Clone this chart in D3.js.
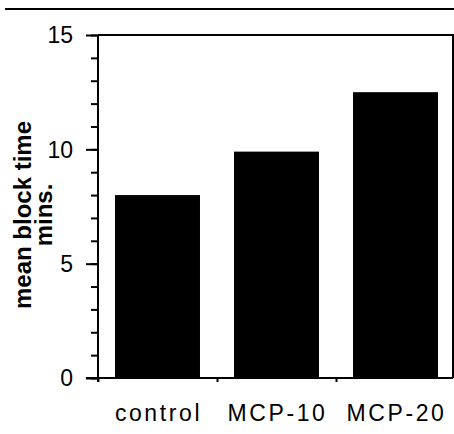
<!DOCTYPE html>
<html>
<head>
<meta charset="utf-8">
<script src="https://cdn.jsdelivr.net/npm/d3@7"></script>
<style>
  html, body { margin: 0; padding: 0; background: #fff; }
  svg { display: block; }
  text { font-family: "Liberation Sans", Arial, Helvetica, sans-serif; fill: #000; }
</style>
</head>
<body>
<svg id="chart" width="454" height="434"></svg>
<script>
// Mean block time (minutes) per treatment group
const categories = ["control", "MCP-10", "MCP-20"];
const blockTime = [8.0, 9.9, 12.5];
const majorTicks = [0, 5, 10, 15];
const minorTicks = d3.range(0, 16);
const yTitle = ["mean block time", "mins."];

const svg = d3.select("#chart");
const plotLeft = 98, plotRight = 455, plotTop = 35, plotBottom = 378;

const x = d3.scaleBand()
  .domain(categories)
  .range([plotLeft, plotRight])
  .paddingInner(0.286)
  .paddingOuter(0.143);

const y = d3.scaleLinear().domain([0, 15]).range([plotBottom, plotTop]);

// rule across the top of the page
svg.append("line")
  .attr("x1", 5).attr("x2", 454).attr("y1", 9).attr("y2", 9)
  .attr("stroke", "#000").attr("stroke-width", 2);

// bars
svg.append("g").selectAll("rect")
  .data(categories.map((c, i) => ({ c, v: blockTime[i] })))
  .join("rect")
  .attr("x", d => x(d.c))
  .attr("width", x.bandwidth())
  .attr("y", d => y(d.v))
  .attr("height", d => y(0) - y(d.v))
  .attr("fill", "#000");

// frame: top and right edges
svg.append("path")
  .attr("d", `M${plotLeft},${plotTop}H453V${plotBottom}`)
  .attr("fill", "none").attr("stroke", "#000").attr("stroke-width", 2);

// y axis: minor ticks every unit, labelled major ticks every 5
const yAxisMinor = d3.axisLeft(y).tickValues(minorTicks).tickSize(7).tickFormat("");
const gMinor = svg.append("g").attr("transform", `translate(${plotLeft},0)`).call(yAxisMinor);
gMinor.select(".domain").remove();
gMinor.selectAll("line").attr("stroke-width", 2);

const yAxis = d3.axisLeft(y).tickValues(majorTicks).tickSize(12).tickPadding(13)
  .tickFormat(d3.format("d"));
const gY = svg.append("g").attr("transform", `translate(${plotLeft},0)`).call(yAxis);
gY.select(".domain").attr("d", `M0,${plotTop}V${plotBottom + 4}`).attr("stroke-width", 2);
gY.selectAll("line").attr("stroke-width", 2);
gY.selectAll("text")
  .style("font-size", "23px")
  .attr("dy", "0.34em");

// x axis with small ticks at group boundaries
const bounds = [plotLeft, plotLeft + x.step(), plotLeft + 2 * x.step()];
const xb = d3.scaleLinear().domain([plotLeft, plotRight]).range([plotLeft, plotRight]);
const gX = svg.append("g").attr("transform", `translate(0,${plotBottom})`)
  .call(d3.axisBottom(xb).tickValues(bounds).tickSize(4).tickFormat(""));
gX.select(".domain").attr("d", `M86,0H453`).attr("stroke-width", 2);
gX.selectAll("line").attr("stroke-width", 2);

// category labels
svg.append("g").selectAll("text")
  .data(categories)
  .join("text")
  .attr("x", d => x(d) + x.bandwidth() / 2 + 1)
  .attr("y", 421)
  .attr("text-anchor", "middle")
  .style("font-size", "23px")
  .style("letter-spacing", "2.6px")
  .text(d => d);

// y axis title, two rotated lines
const title = svg.append("text")
  .attr("transform", "translate(0,215) rotate(-90)")
  .attr("text-anchor", "middle")
  .style("font-size", "24px")
  .style("font-weight", "bold");
title.selectAll("tspan")
  .data(yTitle)
  .join("tspan")
  .attr("x", 0)
  .attr("y", (d, i) => 31 + i * 21)
  .text(d => d);
</script>
</body>
</html>
